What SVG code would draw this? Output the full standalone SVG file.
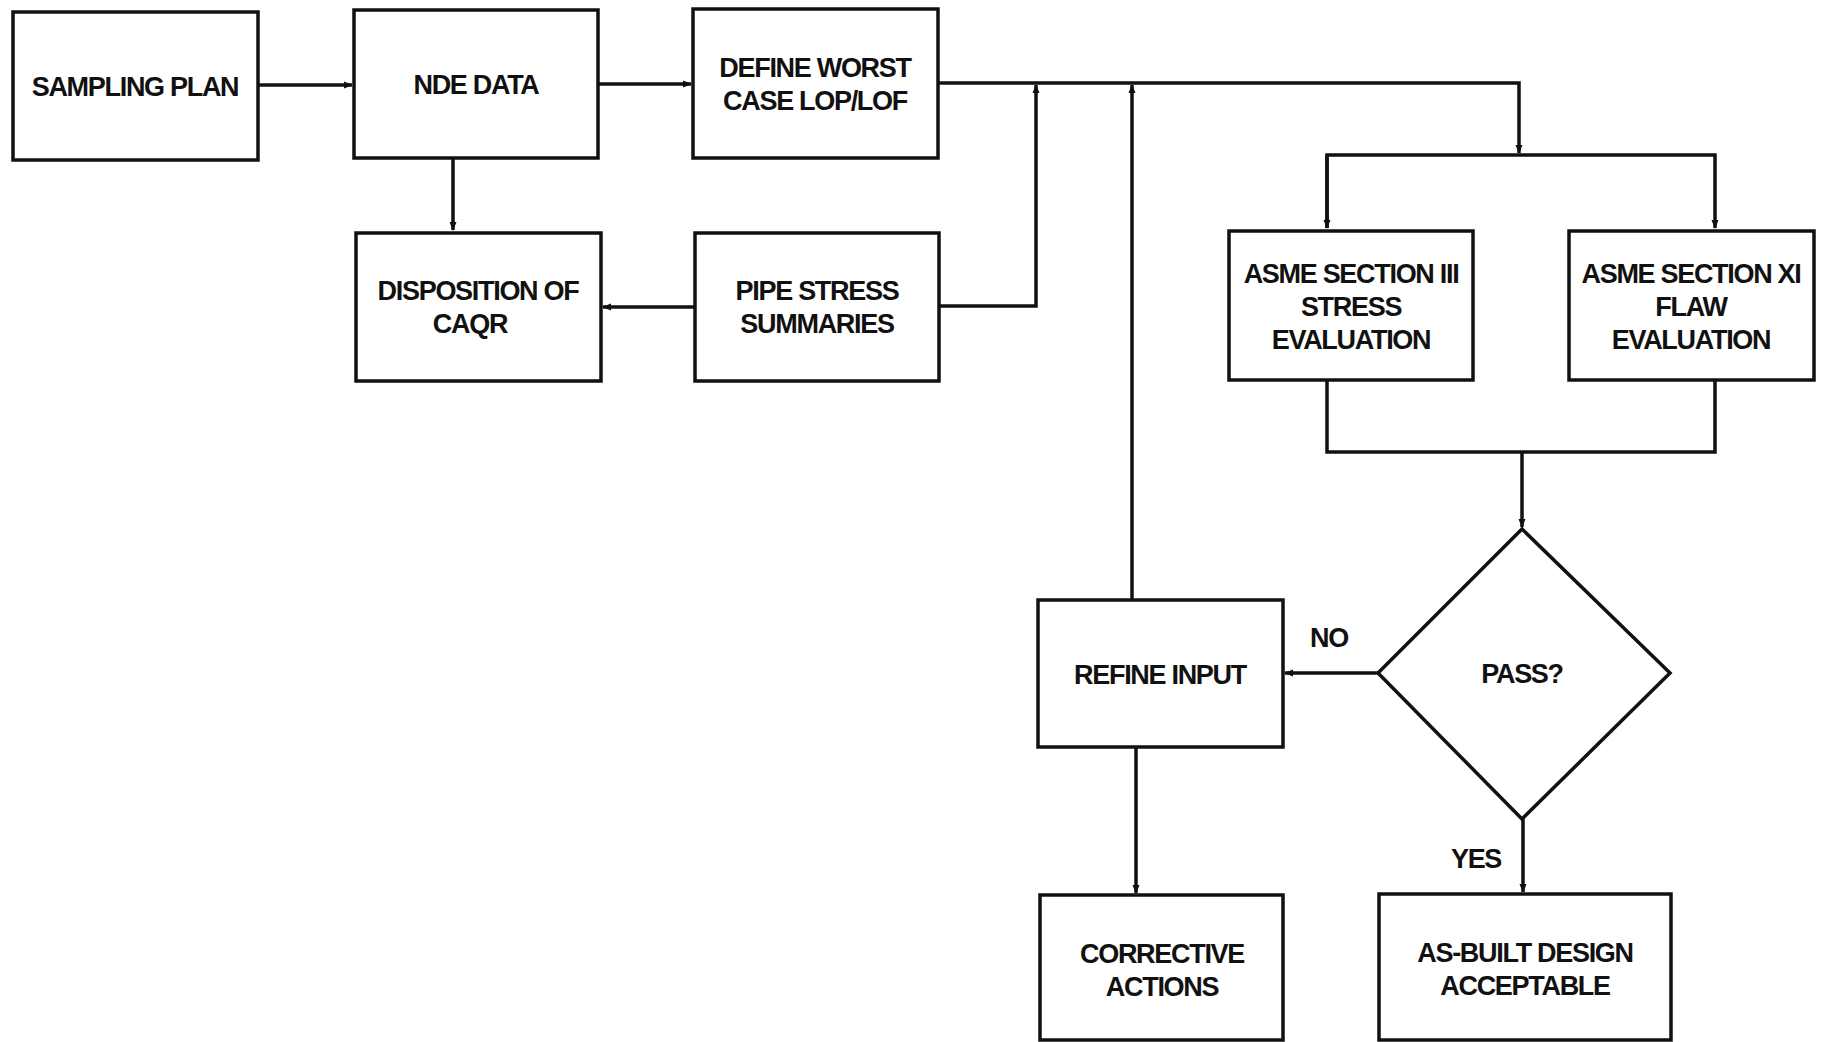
<svg xmlns="http://www.w3.org/2000/svg" width="1822" height="1042" viewBox="0 0 1822 1042">
<style>
.box{fill:#fff;stroke:#111;stroke-width:3.5}
.ln{fill:none;stroke:#111;stroke-width:3.5}
.t{font-family:"Liberation Sans",Arial,sans-serif;font-weight:bold;font-size:27px;fill:#111;text-anchor:middle;letter-spacing:-1.3px}
</style>
<defs>
<marker id="ah" markerWidth="10" markerHeight="10" refX="8" refY="5" orient="auto" markerUnits="userSpaceOnUse">
<path d="M0,1.5 L9,5 L0,8.5 Z" fill="#111"/>
</marker>
</defs>
<rect width="1822" height="1042" fill="#fff"/>
<g id="connectors">
<path class="ln" d="M258,85 H352" marker-end="url(#ah)"/>
<path class="ln" d="M598,84 H691" marker-end="url(#ah)"/>
<path class="ln" d="M453,158 V230" marker-end="url(#ah)"/>
<path class="ln" d="M695,307 H603" marker-end="url(#ah)"/>
<path class="ln" d="M938,83 H1519 V153" marker-end="url(#ah)"/>
<path class="ln" d="M939,306 H1036 V85" marker-end="url(#ah)"/>
<path class="ln" d="M1132,600 V85" marker-end="url(#ah)"/>
<path class="ln" d="M1327,228 V155 H1715 V228" marker-end="url(#ah)"/>
<path class="ln" d="M1327,155 V228" marker-end="url(#ah)"/>
<path class="ln" d="M1327,380 V452 H1715 V380"/>
<path class="ln" d="M1522,452 V527" marker-end="url(#ah)"/>
<path class="ln" d="M1378,673 H1285" marker-end="url(#ah)"/>
<path class="ln" d="M1136,747 V893" marker-end="url(#ah)"/>
<path class="ln" d="M1523,819 V892" marker-end="url(#ah)"/>
</g>
<g id="sampling-plan"><rect class="box" x="13" y="12" width="245" height="148"/><text class="t" x="135" y="96">SAMPLING PLAN</text></g>
<g id="nde-data"><rect class="box" x="354" y="10" width="244" height="148"/><text class="t" x="476" y="94">NDE DATA</text></g>
<g id="define-worst"><rect class="box" x="693" y="9" width="245" height="149"/><text class="t" x="815" y="77">DEFINE WORST</text><text class="t" x="815" y="110">CASE LOP/LOF</text></g>
<g id="disposition"><rect class="box" x="356" y="233" width="245" height="148"/><text class="t" x="478" y="300">DISPOSITION OF</text><text class="t" x="470" y="333">CAQR</text></g>
<g id="pipe-stress"><rect class="box" x="695" y="233" width="244" height="148"/><text class="t" x="817" y="300">PIPE STRESS</text><text class="t" x="817" y="333">SUMMARIES</text></g>
<g id="asme-iii"><rect class="box" x="1229" y="231" width="244" height="149"/><text class="t" x="1351" y="283">ASME SECTION III</text><text class="t" x="1351" y="316">STRESS</text><text class="t" x="1351" y="349">EVALUATION</text></g>
<g id="asme-xi"><rect class="box" x="1569" y="231" width="245" height="149"/><text class="t" x="1691" y="283">ASME SECTION XI</text><text class="t" x="1691" y="316">FLAW</text><text class="t" x="1691" y="349">EVALUATION</text></g>
<g id="pass"><polygon class="box" points="1522,529 1670,673 1522,819 1378,673"/><text class="t" x="1522" y="683">PASS?</text></g>
<g id="refine-input"><rect class="box" x="1038" y="600" width="245" height="147"/><text class="t" x="1160" y="684">REFINE INPUT</text></g>
<g id="corrective"><rect class="box" x="1040" y="895" width="243" height="145"/><text class="t" x="1162" y="963">CORRECTIVE</text><text class="t" x="1162" y="996">ACTIONS</text></g>
<g id="as-built"><rect class="box" x="1379" y="894" width="292" height="146"/><text class="t" x="1525" y="962">AS-BUILT DESIGN</text><text class="t" x="1525" y="995">ACCEPTABLE</text></g>
<text class="t" x="1329" y="647">NO</text>
<text class="t" x="1476" y="868">YES</text>
</svg>
